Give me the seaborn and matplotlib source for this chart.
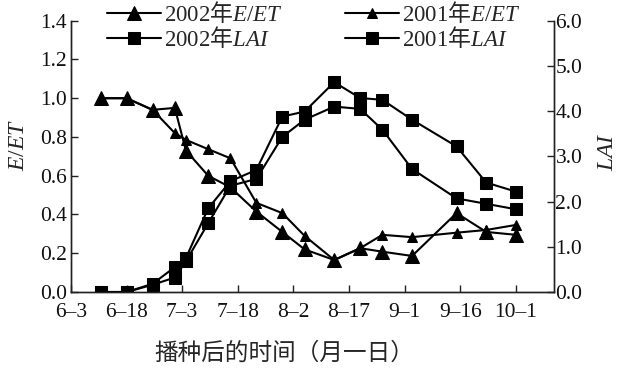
import matplotlib
matplotlib.use("Agg")
import matplotlib.pyplot as plt
import seaborn as sns
import numpy as np

# Days after 3 June for each observation
days = [8, 15, 22, 28, 31, 37, 43, 50, 57, 63, 71, 78, 84, 92, 104, 112, 120]

# Soil evaporation fraction E/ET
eet_2002 = [1.00, 1.00, 0.94, 0.95, 0.73, 0.60, 0.54, 0.415, 0.31, 0.22,
            0.165, 0.226, 0.208, 0.186, 0.407, 0.31, 0.295]
eet_2001 = [1.00, 1.00, 0.94, 0.82, 0.785, 0.737, 0.69, 0.46, 0.407, 0.29,
            0.165, 0.226, 0.295, 0.283, 0.306, 0.32, 0.346]

# Leaf area index
lai_2002 = [0.0, 0.0, 0.18, 0.55, 0.75, 1.85, 2.45, 2.70, 3.88, 3.99,
            4.64, 4.29, 4.25, 3.81, 3.22, 2.42, 2.22]
lai_2001 = [0.0, 0.0, 0.16, 0.32, 0.68, 1.52, 2.35, 2.50, 3.43, 3.81,
            4.10, 4.05, 3.59, 2.72, 2.07, 1.95, 1.83]

tick_days = [0, 15, 30, 45, 60, 75, 90, 105, 120]
tick_labels = ["6\u20133", "6\u201318", "7\u20133", "7\u201318", "8\u20132",
               "8\u201317", "9\u20131", "9\u201316", "10\u20131"]

sns.set_style("white")
plt.rcParams["font.family"] = ["Liberation Serif", "Noto Sans CJK SC"]
plt.rcParams["mathtext.fontset"] = "custom"
plt.rcParams["mathtext.rm"] = "Liberation Serif"
plt.rcParams["mathtext.it"] = "Liberation Serif:italic"

fig = plt.figure(figsize=(6.18, 3.69), dpi=100)
ax = fig.add_axes([0.1149, 0.2087, 0.7816, 0.7352])
ax2 = ax.twinx()

line_kw = dict(color="black", linewidth=1.5, markeredgecolor="black", legend=False)
sns.lineplot(x=days, y=eet_2002, ax=ax, marker="^", markersize=9.5, **line_kw)
sns.lineplot(x=days, y=eet_2001, ax=ax, marker="^", markersize=7, **line_kw)
sns.lineplot(x=days, y=lai_2002, ax=ax2, marker="s", markersize=8.5, **line_kw)
sns.lineplot(x=days, y=lai_2001, ax=ax2, marker="s", markersize=8, **line_kw)

ax.set_xlim(0, 130.3)
ax.set_ylim(0, 1.4)
ax2.set_ylim(0, 6.0)
ax.set_xticks(tick_days)
ax.set_xticklabels(tick_labels)
ax.set_yticks(np.arange(0, 1.41, 0.2))
ax.set_yticklabels([f"{v:.1f}" for v in np.arange(0, 1.41, 0.2)])
ax2.set_yticks(np.arange(0, 6.01, 1.0))
ax2.set_yticklabels([f"{v:.1f}" for v in np.arange(0, 6.01, 1.0)])

for a in (ax, ax2):
    a.spines["top"].set_visible(False)
    for s in ("left", "right", "bottom"):
        a.spines[s].set_color("#222222")
        a.spines[s].set_linewidth(1.0)
ax.tick_params(axis="both", direction="in", length=5, width=1.0,
               labelsize=15.5, pad=3, colors="#222222", labelcolor="#111111")
ax.tick_params(axis="y", left=True, right=False)
ax.tick_params(axis="x", bottom=True, top=False, pad=8)
ax2.tick_params(axis="y", direction="in", length=5, width=1.0, labelsize=15.5,
                pad=1, right=True, left=False, colors="#222222", labelcolor="#111111")

xl = ax.set_xlabel("播种后的时间（月一日）", fontsize=17, family="Noto Sans CJK SC")
xl.set_va("center")
ax.xaxis.set_label_coords(0.441, -0.225)

yl = ax.set_ylabel("$E/ET$", fontsize=17)
yl.set_va("center")
ax.yaxis.set_label_coords(-0.109, 0.542)

yr = ax2.set_ylabel("$LAI$", fontsize=17, rotation=90)
yr.set_va("center")
ax2.yaxis.set_label_coords(1.111, 0.516)

handles = [ax.lines[0], ax2.lines[0], ax.lines[1], ax2.lines[1]]
labels = [r"$\mathrm{2002}$年$E/ET$", r"$\mathrm{2002}$年$LAI$",
          r"$\mathrm{2001}$年$E/ET$", r"$\mathrm{2001}$年$LAI$"]
fig.legend(handles, labels, loc="upper left", bbox_to_anchor=(0.173, 1.0),
           ncol=2, frameon=False, borderpad=0, borderaxespad=0,
           handlelength=2.35, handletextpad=0.15, columnspacing=2.68,
           labelspacing=-0.05, prop={"family": "Noto Sans CJK SC", "size": 16.5})

fig.savefig("out.png", dpi=100)
